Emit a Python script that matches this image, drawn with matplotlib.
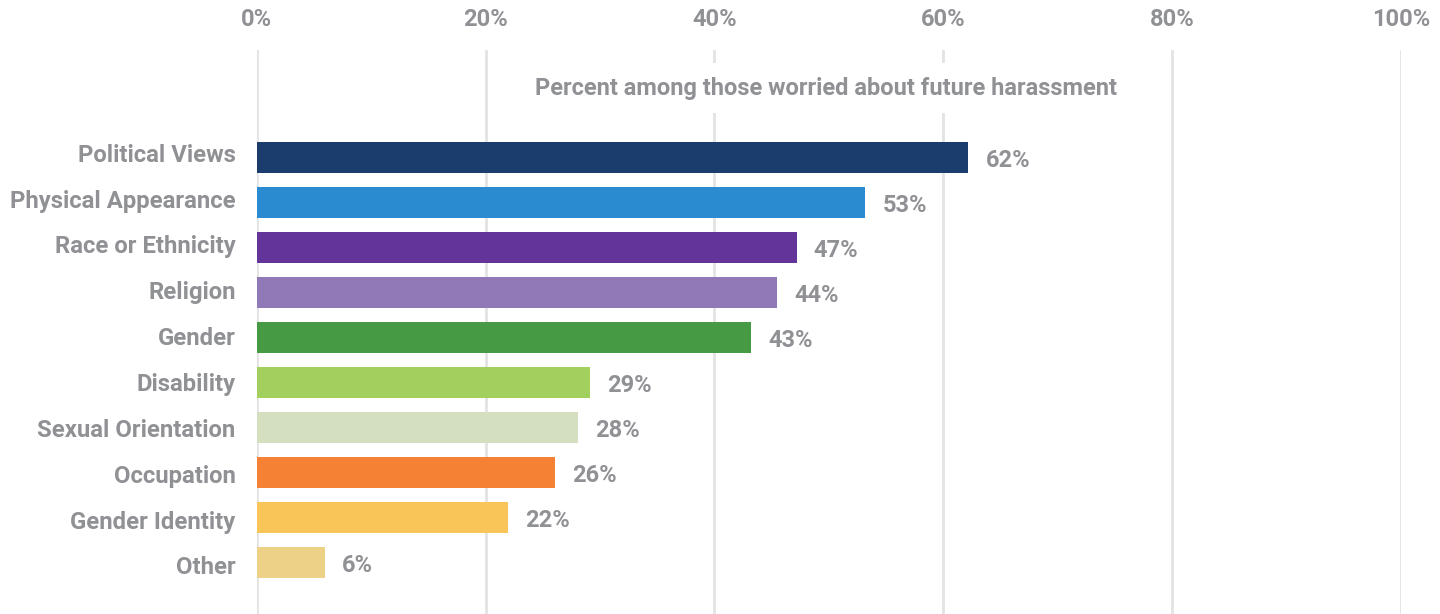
import matplotlib
matplotlib.use("Agg")
import matplotlib.pyplot as plt
import matplotlib.transforms as mtransforms

plt.rcParams['font.family'] = ['Roboto', 'DejaVu Sans']

categories = ["Political Views", "Physical Appearance", "Race or Ethnicity", "Religion",
              "Gender", "Disability", "Sexual Orientation", "Occupation",
              "Gender Identity", "Other"]
values = [62.2, 53.2, 47.2, 45.5, 43.2, 29.1, 28.1, 26.1, 22.0, 6.0]
value_labels = ["62%", "53%", "47%", "44%", "43%", "29%", "28%", "26%", "22%", "6%"]
colors = ["#1b3d6e", "#2a8bd0", "#63359a", "#9178b6", "#469a44",
          "#a3cf5e", "#d3dfbf", "#f58234", "#f9c458", "#edd186"]
xticks = [0, 20, 40, 60, 80, 100]
xtick_labels = ["0%", "20%", "40%", "60%", "80%", "100%"]
annotation = "Percent among those worried about future harassment"

TEXT = "#909195"
GRID = "#e3e3e3"

W, H = 1440, 614
fig = plt.figure(figsize=(W / 100, H / 100), dpi=100)
left_px, right_px, top_px = 256.7, 1401.0, 50.0
ax = fig.add_axes([left_px / W, 0, (right_px - left_px) / W, (H - top_px) / H])

ypos = list(range(len(categories)))
ax.barh(ypos, values, height=0.69, color=colors, zorder=2)

ax.set_xlim(0, 100)
spacing = 45.0
ax.set_ylim((H - 157.3) / spacing, -(157.3 - top_px) / spacing)

for s in ax.spines.values():
    s.set_visible(False)
ax.xaxis.tick_top()
ax.set_xticks(xticks)
ax.set_xticklabels(xtick_labels, fontsize=17, fontweight='bold', color=TEXT)
ax.tick_params(axis='x', length=0, pad=14)
ax.set_yticks([])
ax.grid(axis='x', color=GRID, linewidth=2, zorder=0)
ax.set_axisbelow(True)

off_val = mtransforms.offset_copy(ax.transData, fig=fig, x=17, y=-3, units='dots')
for i, (y, cat, v, lab) in enumerate(zip(ypos, categories, values, value_labels)):
    off_cat = mtransforms.offset_copy(ax.transData, fig=fig, x=-21, y=2 - 0.85 * i, units='dots')
    ax.text(0, y, cat, transform=off_cat, ha='right', va='center',
            fontsize=17.2, fontweight='bold', color=TEXT)
    ax.text(v, y, lab, transform=off_val, ha='left', va='center',
            fontsize=17, fontweight='bold', color=TEXT)

fig.text(826 / W, 1 - 88 / H, annotation, ha='center', va='center',
         fontsize=17, fontweight='bold', color=TEXT,
         bbox=dict(facecolor='white', edgecolor='none', pad=10), zorder=5)

fig.savefig("out.png", dpi=100, facecolor='white')
